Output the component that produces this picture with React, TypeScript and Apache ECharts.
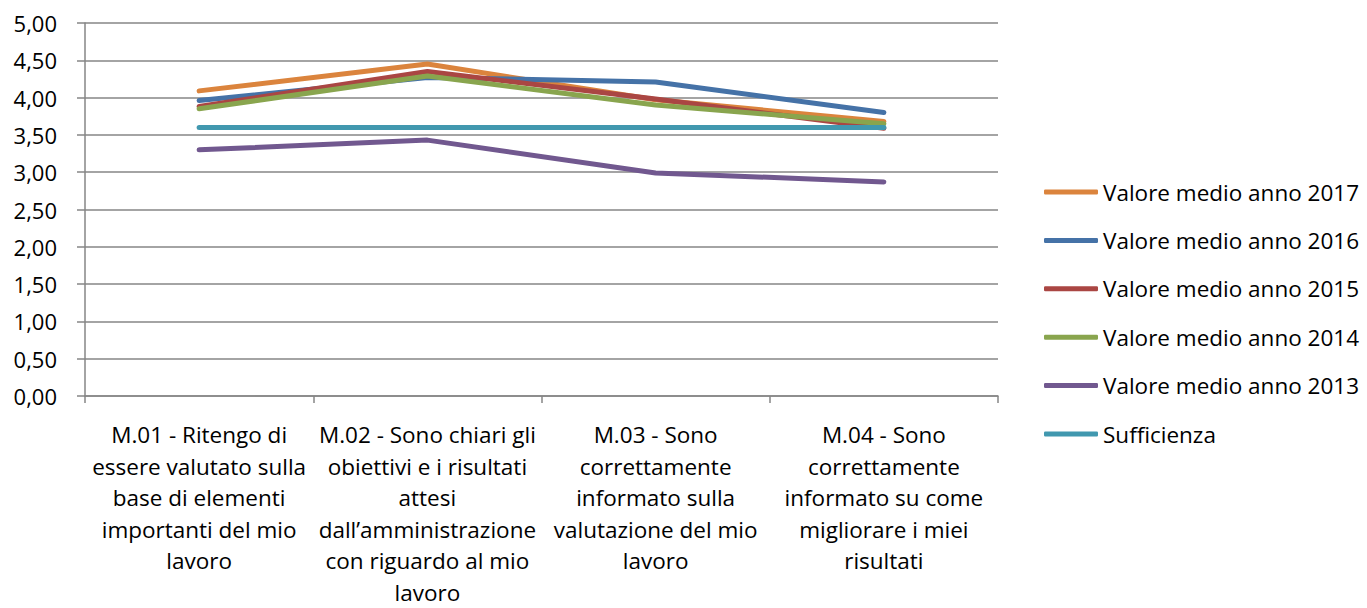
import React, { useEffect, useRef } from "react";
import * as echarts from "echarts";

const categories = [
  "M.01 - Ritengo di\nessere valutato sulla\nbase di elementi\nimportanti del mio\nlavoro",
  "M.02 - Sono chiari gli\nobiettivi e i risultati\nattesi\ndall’amministrazione\ncon riguardo al mio\nlavoro",
  "M.03 - Sono\ncorrettamente\ninformato sulla\nvalutazione del mio\nlavoro",
  "M.04 - Sono\ncorrettamente\ninformato su come\nmigliorare i miei\nrisultati",
];

const seriesNames = [
  "Valore medio anno 2017",
  "Valore medio anno 2016",
  "Valore medio anno 2015",
  "Valore medio anno 2014",
  "Valore medio anno 2013",
  "Sufficienza",
];

const v2017 = [4.09, 4.45, 3.97, 3.68];
const v2016 = [3.96, 4.27, 4.21, 3.8];
const v2015 = [3.88, 4.35, 3.98, 3.59];
const v2014 = [3.85, 4.29, 3.9, 3.65];
const v2013 = [3.3, 3.43, 2.99, 2.87];
const sufficienza = [3.6, 3.6, 3.6, 3.6];

const seriesValues = [v2017, v2016, v2015, v2014, v2013, sufficienza];
const colors = ["#DB843D", "#4572A7", "#AA4643", "#89A54E", "#71588F", "#4198AF"];

const FONT = "Open Sans";

export default function App() {
  const ref = useRef<HTMLDivElement>(null);
  useEffect(() => {
    const chart = echarts.init(ref.current!, null, { renderer: "svg" });
    chart.setOption({
      animation: false,
      textStyle: { fontFamily: FONT },
      grid: { left: 85, width: 913, top: 23, height: 382, containLabel: false },
      legend: {
        orient: "vertical",
        left: 1039,
        top: 173,
        icon: "roundRect",
        itemWidth: 54,
        itemHeight: 5,
        itemGap: 20.4,
        data: seriesNames,
        textStyle: { fontFamily: FONT, fontSize: 22.5, lineHeight: 28, color: "#000" },
      },
      xAxis: {
        type: "category",
        data: categories,
        axisLine: { lineStyle: { color: "#868686", width: 1.5 } },
        axisTick: { show: true, length: 7, lineStyle: { color: "#868686", width: 1.5 } },
        axisLabel: {
          interval: 0,
          color: "#000",
          fontFamily: FONT,
          fontSize: 22.5,
          lineHeight: 31.5,
          margin: 23,
          verticalAlign: "top",
        },
      },
      yAxis: {
        type: "value",
        min: 0,
        max: 5,
        interval: 0.5,
        axisLine: { show: true, lineStyle: { color: "#868686", width: 1.5 } },
        axisTick: { show: true, length: 8, lineStyle: { color: "#868686", width: 1.5 } },
        splitLine: { lineStyle: { color: "#868686", width: 1.5 } },
        axisLabel: {
          color: "#000",
          fontFamily: FONT,
          fontSize: 22,
          margin: 28,
          formatter: (v: number) => v.toFixed(2).replace(".", ","),
        },
      },
      series: seriesNames.map((name, i) => ({
        name,
        type: "line",
        data: seriesValues[i],
        symbol: "none",
        color: colors[i],
        lineStyle: { width: 5, color: colors[i], cap: "round", join: "round" },
      })),
    });
    return () => chart.dispose();
  }, []);
  return <div ref={ref} style={{ width: 1367, height: 608, position: "absolute", left: 0, top: 0 }} />;
}
